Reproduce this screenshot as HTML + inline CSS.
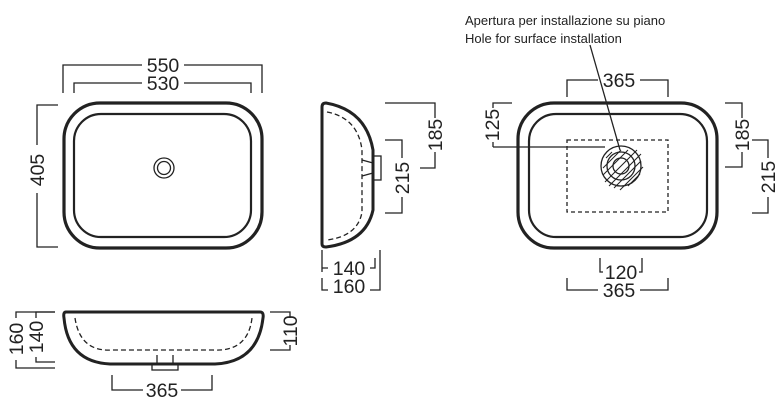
<!DOCTYPE html><html><head><style>body{margin:0;background:#fff}svg{display:block}text{font-family:"Liberation Sans",sans-serif;fill:#222}</style></head><body>
<svg width="780" height="401" viewBox="0 0 780 401" xmlns="http://www.w3.org/2000/svg">
<g fill="none" stroke="#222" stroke-width="1.3">
<rect x="64" y="103" width="198" height="145" rx="36" stroke-width="3.2"/>
<rect x="74" y="114" width="177" height="123" rx="27" stroke-width="2.2"/>
<circle cx="164" cy="168" r="10"/><circle cx="164" cy="168" r="6.5"/>
<path d="M63 93V65H142M184 65H262V93"/>
<path d="M74 93V83H142M184 83H251V93"/>
<path d="M58 105H37V145M37 193V247H58"/>
<path d="M322 107Q322 103 326 103Q366 110 373 150V210Q366 242 326 247Q322 247 322 244Z" stroke-width="3"/>
<path d="M327 112Q358 118 362 150V212Q358 236 327 240" stroke-dasharray="5,3"/>
<rect x="373" y="156" width="8" height="24"/>
<path d="M362 160L373 163M362 176L373 173"/>
<path d="M385 103H435V118M435 152V168H420"/>
<path d="M385 140H402V158M402 197V213H385"/>
<path d="M322 250V272M380 250V278M328 268H322M370 268H375V258M322 278V290H328M370 290H380V278"/>
<rect x="518" y="103" width="199" height="145" rx="36" stroke-width="3.2"/>
<rect x="529" y="114" width="178" height="123" rx="27" stroke-width="2.2"/>
<rect x="567" y="140" width="101" height="72" stroke-dasharray="4,3"/>
<circle cx="621" cy="166" r="20"/><circle cx="621" cy="166" r="14"/><circle cx="621" cy="166" r="8"/>
<g stroke-width="1"><path d="M603 175L628 150M605 182L637 150M609 186L641 154M614 188L641 161M620 190L643 167M603 168L621 150M606 158L612 152M628 186L640 174"/></g>
<path d="M590 45L620 150"/>
<path d="M493 147H605M493 147V142M493 108V103H512"/>
<path d="M567 97V80H598M640 80H668V97"/>
<path d="M725 103H742V118M742 152V167H725"/>
<path d="M752 140H768V158M768 197V213H752"/>
<path d="M600 258V272H603M639 272H642V258"/>
<path d="M567 278V290H598M640 290H668V278"/>
<path d="M66 312H260Q264 312 263 318Q258 362 215 364H110Q68 362 64 318Q63 312 66 312Z" stroke-width="3"/>
<path d="M75 318Q80 352 112 350H213Q248 352 252 318" stroke-dasharray="5,3"/>
<rect x="152" y="364" width="26" height="6"/>
<path d="M157 355V364M173 355V364"/>
<path d="M55 312H16V318M16 360V368H55"/>
<path d="M55 312H36V318M36 357V362H55"/>
<path d="M270 312H290V318M290 345V350H270"/>
<path d="M112 375V390H143M181 390H212V375"/>
</g>
<g font-size="19.5">
<text x="163" y="72" text-anchor="middle">550</text>
<text x="163" y="90" text-anchor="middle">530</text>
<text transform="translate(44,170) rotate(-90)" text-anchor="middle">405</text>
<text transform="translate(442,135) rotate(-90)" text-anchor="middle">185</text>
<text transform="translate(409,178) rotate(-90)" text-anchor="middle">215</text>
<text x="349" y="275" text-anchor="middle">140</text>
<text x="349" y="293" text-anchor="middle">160</text>
<text x="619" y="87" text-anchor="middle">365</text>
<text transform="translate(499,125) rotate(-90)" text-anchor="middle">125</text>
<text transform="translate(749,135) rotate(-90)" text-anchor="middle">185</text>
<text transform="translate(775,177) rotate(-90)" text-anchor="middle">215</text>
<text x="621" y="279" text-anchor="middle">120</text>
<text x="619" y="297" text-anchor="middle">365</text>
<text transform="translate(23,339) rotate(-90)" text-anchor="middle">160</text>
<text transform="translate(43,337) rotate(-90)" text-anchor="middle">140</text>
<text transform="translate(297,331) rotate(-90)" text-anchor="middle">110</text>
<text x="162" y="397" text-anchor="middle">365</text>
</g>
<text x="465" y="25" font-size="13">Apertura per installazione su piano</text>
<text x="465" y="43" font-size="13">Hole for surface installation</text>
</svg></body></html>
